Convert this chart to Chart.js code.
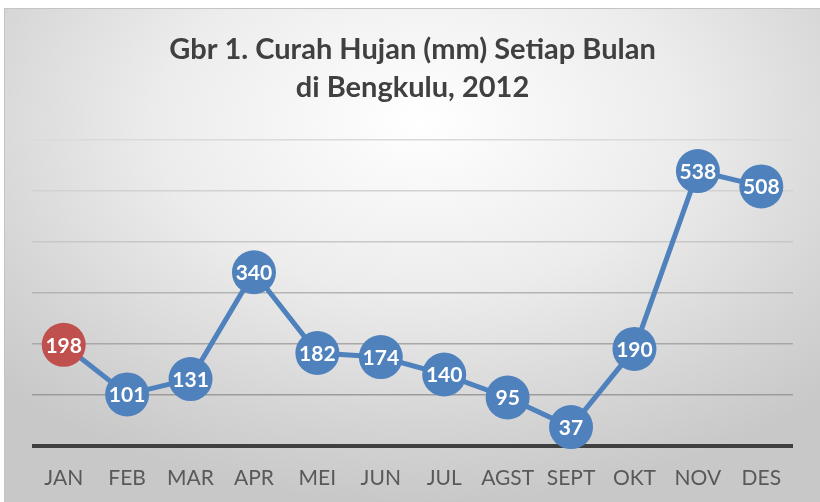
<!DOCTYPE html>
<html>
<head>
<meta charset="utf-8">
<script src="https://cdn.jsdelivr.net/npm/chart.js@4/dist/chart.umd.min.js"></script>
<style>
  html, body { margin: 0; padding: 0; background: #fff; }
  #wrap { position: relative; width: 820px; height: 502px; overflow: hidden; }
  #bg {
    position: absolute; left: 4px; top: 8px; width: 830px; height: 510px;
    border-left: 1px solid #c4c4c4; border-top: 1px solid #c4c4c4;
    background: radial-gradient(ellipse 70% 75% at 50% 22%, #ffffff 0%, #ececec 45%, #d4d4d4 80%, #c8c8c8 100%);
  }
  canvas { position: absolute; left: 0; top: 0; }
</style>
</head>
<body>
<div id="wrap">
  <div id="bg"></div>
  <canvas id="rainChart" width="820" height="502"></canvas>
</div>
<script>
const months = ['JAN', 'FEB', 'MAR', 'APR', 'MEI', 'JUN', 'JUL', 'AGST', 'SEPT', 'OKT', 'NOV', 'DES'];
const rainfall = [198, 101, 131, 340, 182, 174, 140, 95, 37, 190, 538, 508];
const titleLines = ['Gbr 1. Curah Hujan (mm) Setiap Bulan', 'di Bengkulu, 2012'];

const blue = '#4F81BD';
const red = '#C0504D';
const pointColors = rainfall.map((v, i) => i === 0 ? red : blue);

// grid shades, lighter toward the top like the original
const gridShades = { 0: '#404040', 100: '#9c9c9c', 200: '#a8a8a8', 300: '#b4b4b4', 400: '#c8c8c8', 500: '#d2d2d2', 600: '#dadada' };

const valueLabels = {
    id: 'valueLabels',
    afterDatasetsDraw(chart) {
        const c = chart.ctx;
        const meta = chart.getDatasetMeta(0);
        c.save();
        c.fillStyle = '#ffffff';
        c.font = 'bold 21px Lato';
        c.textAlign = 'center';
        c.textBaseline = 'middle';
        meta.data.forEach((pt, i) => {
            c.fillText(String(rainfall[i]), pt.x, pt.y + 1);
        });
        c.restore();
    }
};

new Chart(document.getElementById('rainChart'), {
    type: 'line',
    data: {
        labels: months,
        datasets: [{
            data: rainfall,
            borderColor: blue,
            borderWidth: 5,
            pointRadius: 22,
            pointHoverRadius: 22,
            pointBorderWidth: 0,
            pointBackgroundColor: pointColors,
            pointBorderColor: pointColors,
            tension: 0,
            clip: false
        }]
    },
    options: {
        responsive: false,
        animation: false,
        events: [],
        layout: { autoPadding: false, padding: { left: 32, right: 27, top: 0, bottom: 0 } },
        plugins: {
            legend: { display: false },
            tooltip: { enabled: false },
            title: {
                display: true,
                text: titleLines,
                color: '#404040',
                font: { family: 'Lato', size: 29, weight: 'bold', lineHeight: 1.3 },
                padding: { top: 31, bottom: 33 }
            }
        },
        scales: {
            x: {
                offset: true,
                grid: { display: false, drawTicks: false },
                border: { display: false },
                ticks: { color: '#595959', font: { family: 'Lato', size: 21 }, padding: 20 },
                afterFit: scale => { scale.height = 56; }
            },
            y: {
                min: 0,
                max: 600,
                ticks: { display: false, stepSize: 100 },
                border: { display: false },
                grid: {
                    drawTicks: false,
                    color: ctx => gridShades[ctx.tick.value] || '#b0b0b0',
                    lineWidth: ctx => ctx.tick.value === 0 ? 4 : 1.5
                }
            }
        }
    },
    plugins: [valueLabels]
});
</script>
</body>
</html>
